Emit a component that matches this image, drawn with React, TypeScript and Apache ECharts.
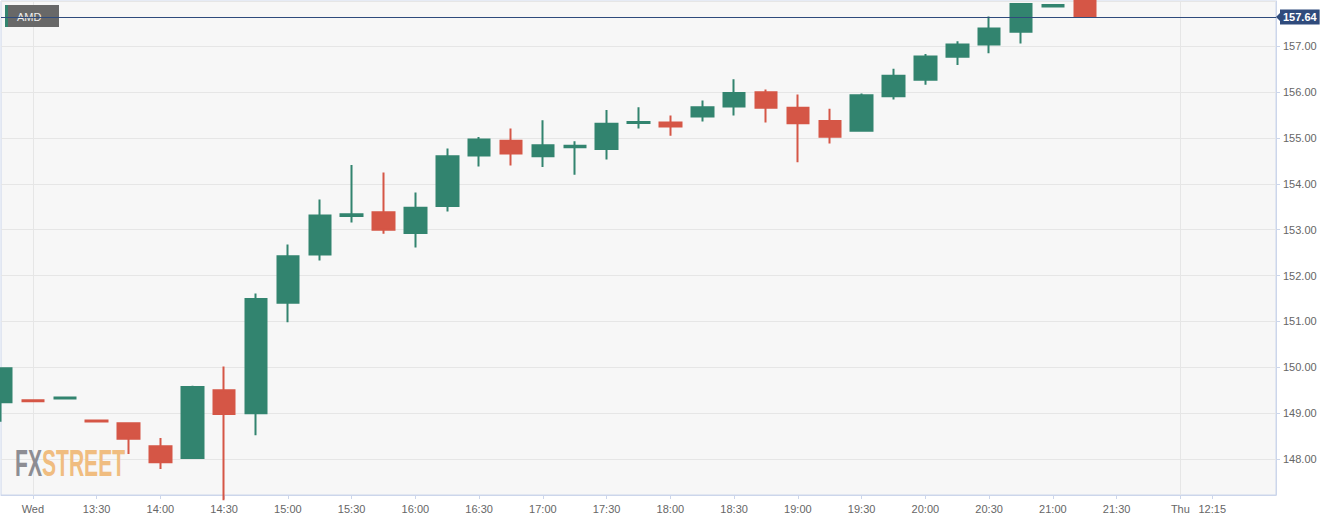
import React, { useEffect, useRef } from "react";
import * as echarts from "echarts";

// ---- data ----
const symbolName = "AMD";
const lastPrice = 157.64;

const categories = [
  "12:45", "13:00", "13:15", "13:30", "13:45", "14:00", "14:15", "14:30", "14:45", "15:00",
  "15:15", "15:30", "15:45", "16:00", "16:15", "16:30", "16:45", "17:00", "17:15", "17:30",
  "17:45", "18:00", "18:15", "18:30", "18:45", "19:00", "19:15", "19:30", "19:45", "20:00",
  "20:15", "20:30", "20:45", "21:00", "21:15", "21:30", "21:45", "12:00", "12:15", "12:30",
  "12:45",
];

const tickLabels = [
  "", "Wed", "", "13:30", "", "14:00", "", "14:30", "", "15:00",
  "", "15:30", "", "16:00", "", "16:30", "", "17:00", "", "17:30",
  "", "18:00", "", "18:30", "", "19:00", "", "19:30", "", "20:00",
  "", "20:30", "", "21:00", "", "21:30", "", "Thu", "12:15", "",
  "",
];

const dayStartIndices = [1, 37];

const opens = [
  149.24, 149.28, 149.32, 148.84, 148.78, 148.28, 148.02, 149.50, 149.00, 151.41,
  152.46, 153.30, 153.38, 152.93, 153.52, 154.62, 154.94, 154.60, 154.80, 154.76,
  155.33, 155.34, 155.47, 155.69, 156.00, 155.66, 155.37, 155.16, 155.91, 156.27,
  156.77, 157.04, 157.32, 157.87, 158.00,
];
const closes = [
  149.98, 149.26, 149.34, 148.82, 148.44, 147.93, 149.57, 148.98, 151.49, 152.42,
  153.31, 153.34, 153.00, 153.48, 154.60, 154.97, 154.66, 154.84, 154.83, 155.31,
  155.35, 155.25, 155.67, 155.98, 155.66, 155.32, 155.03, 155.93, 156.36, 156.78,
  157.04, 157.39, 157.92, 157.90, 157.64,
];
const lows = [
  148.81, 149.25, 149.31, 148.81, 148.11, 147.78, 148.02, 147.10, 148.52, 150.98,
  152.33, 153.16, 152.91, 152.61, 153.40, 154.38, 154.40, 154.37, 154.20, 154.53,
  155.21, 155.05, 155.36, 155.49, 155.34, 154.47, 154.88, 155.16, 155.84, 156.16,
  156.59, 156.85, 157.06, 157.86, 157.64,
];
const highs = [
  150.00, 149.29, 149.35, 148.85, 148.78, 148.46, 149.60, 150.02, 151.61, 152.68,
  153.66, 154.41, 154.25, 153.81, 154.77, 155.02, 155.21, 155.39, 154.93, 155.61,
  155.67, 155.49, 155.82, 156.28, 156.06, 155.95, 155.64, 155.97, 156.51, 156.83,
  157.11, 157.65, 157.93, 157.91, 158.05,
];

// ---- styling ----
const UP = "#32846f";
const DOWN = "#d55646";
const PRICE = "#2f4b7c";
const AXIS = "#ccd6eb";
const GRIDLINE = "#e6e6e6";
const FONT = "'Liberation Sans', Arial, Helvetica, sans-serif";
const W = 1340;
const H = 521;
const GRID = { left: 1, right: 64, top: 1, bottom: 26 };

function baseGraphic(): any[] {
  return [
    {
      id: "wm",
      type: "text",
      x: 15,
      y: 463,
      scaleX: 0.57,
      z: 1,
      silent: true,
      style: {
        text: "{a|FX}{b|STREET}",
        fontSize: 37,
        fontWeight: "bold",
        fontFamily: FONT,
        verticalAlign: "middle",
        rich: {
          a: { fill: "#8d8d93", fontSize: 37, fontWeight: "bold", fontFamily: FONT },
          b: { fill: "#f0bd80", fontSize: 37, fontWeight: "bold", fontFamily: FONT },
        },
      },
    },
    {
      id: "symBox",
      type: "rect",
      z: 1,
      shape: { x: 5, y: 5, width: 54, height: 22 },
      style: { fill: "#686868" },
    },
    {
      id: "symStrip",
      type: "rect",
      z: 1,
      shape: { x: 5, y: 5, width: 3, height: 22 },
      style: { fill: UP },
    },
    {
      id: "symText",
      type: "text",
      z: 1,
      x: 17,
      y: 16.5,
      style: {
        text: symbolName,
        fill: "#eeeeee",
        fontSize: 11,
        fontFamily: FONT,
        verticalAlign: "middle",
      },
    },
  ];
}

export default function App() {
  const ref = useRef<HTMLDivElement>(null);

  useEffect(() => {
    if (!ref.current) return;
    const chart = echarts.init(ref.current, undefined, { renderer: "svg" });

    const candleData = opens.map((o, i) => [o, closes[i], lows[i], highs[i]]);
    const showAt = (i: number) => tickLabels[i] !== "" && tickLabels[i] !== undefined;

    const option: any = {
      animation: false,
      backgroundColor: "#ffffff",
      textStyle: { fontFamily: FONT },
      grid: {
        ...GRID,
        show: true,
        backgroundColor: "#f7f7f7",
        borderColor: AXIS,
        borderWidth: 1,
      },
      xAxis: {
        type: "category",
        data: categories,
        boundaryGap: false,
        axisLine: { show: true, lineStyle: { color: AXIS, width: 1 } },
        axisTick: {
          show: true,
          length: 4,
          interval: (i: number) => showAt(i),
          lineStyle: { color: AXIS },
        },
        axisLabel: {
          color: "#666666",
          fontSize: 11,
          fontFamily: FONT,
          margin: 8,
          interval: (i: number) => showAt(i),
          formatter: (_v: string, i: number) => tickLabels[i] || "",
        },
        splitLine: {
          show: true,
          interval: (i: number) => dayStartIndices.indexOf(i) >= 0,
          lineStyle: { color: GRIDLINE, width: 1 },
        },
      },
      yAxis: {
        type: "value",
        position: "right",
        min: 147.215,
        max: 157.988,
        splitNumber: 10,
        axisLine: { show: true, lineStyle: { color: AXIS, width: 1 } },
        axisTick: { show: true, length: 4, lineStyle: { color: AXIS } },
        axisLabel: {
          color: "#666666",
          fontSize: 11,
          fontFamily: FONT,
          margin: 7,
          showMinLabel: false,
          showMaxLabel: false,
          formatter: (v: number) =>
            Math.abs(v - Math.round(v)) < 1e-6 ? v.toFixed(2) : "",
        },
        splitLine: { show: true, lineStyle: { color: GRIDLINE, width: 1 } },
      },
      graphic: baseGraphic(),
      series: [
        {
          type: "candlestick",
          data: candleData,
          barWidth: 22,
          clip: true,
          itemStyle: {
            color: UP,
            color0: DOWN,
            borderColor: UP,
            borderColor0: DOWN,
            borderWidth: 2,
          },
          markLine: {
            silent: true,
            symbol: ["none", "none"],
            animation: false,
            lineStyle: { color: PRICE, width: 1, type: "solid" },
            label: {
              show: true,
              position: "end",
              distance: 4,
              formatter: () => lastPrice.toFixed(2),
              color: "#ffffff",
              fontWeight: "bold",
              fontSize: 11,
              fontFamily: FONT,
              backgroundColor: PRICE,
              padding: [2, 3, 1, 3],
              lineHeight: 12,
            },
            data: [{ yAxis: lastPrice }],
          },
        },
      ],
    };

    chart.setOption(option);

    const py = chart.convertToPixel({ yAxisIndex: 0 }, lastPrice) as number;
    const xr = W - GRID.right;
    const g = baseGraphic();
    g.push({
      id: "arrow",
      type: "polygon",
      z: 3,
      shape: {
        points: [
          [xr, py],
          [xr + 5, py - 5],
          [xr + 5, py + 5],
        ],
      },
      style: { fill: PRICE },
    });
    chart.setOption({ graphic: g });

    return () => chart.dispose();
  }, []);

  return (
    <div
      ref={ref}
      style={{ position: "fixed", left: 0, top: 0, width: W, height: H }}
    />
  );
}
